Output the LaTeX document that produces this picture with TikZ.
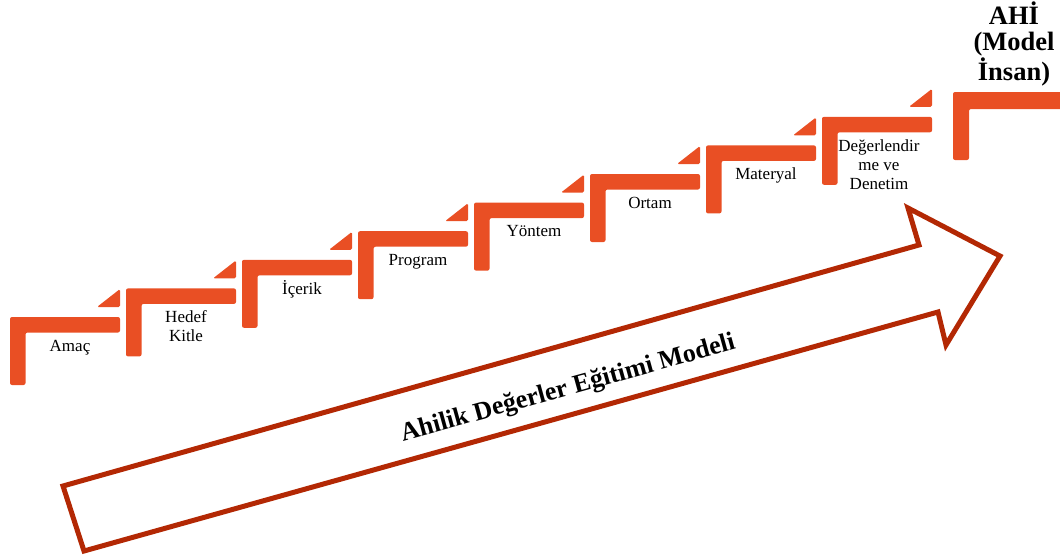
\documentclass[tikz,border=0pt]{standalone}
\usepackage{fontspec}
\setmainfont{Liberation Serif}
\usepackage{tikz}
\usepackage{xcolor}
\definecolor{steporange}{RGB}{233,79,36}
\definecolor{arrowred}{RGB}{179,40,4}

\begin{document}
\begin{tikzpicture}[x=1pt, y=-1pt, font=\fontsize{17}{19}\selectfont,
    lbl/.style={anchor=base, align=center, inner sep=0pt},
    bigarrow/.style={draw=arrowred, line width=5pt, line join=miter},
    stair/.pic={
      \fill[steporange, rounded corners=2pt] (0,68) -- (0,0) -- (110,0) -- (110,15.5) -- (15.5,15.5) -- (15.5,68) -- cycle;
      \fill[steporange, rounded corners=1.5pt] (87,-10) -- (110,-10) -- (110,-28) -- cycle;
    }]
    \useasboundingbox (0,0) rectangle (1060,557);
    \pic at (10,317)   {stair};
    \pic at (126,288.4) {stair};
    \pic at (242,259.8) {stair};
    \pic at (358,231.2) {stair};
    \pic at (474,202.6) {stair};
    \pic at (590,174)   {stair};
    \pic at (706,145.4) {stair};
    \pic at (822,116.8) {stair};
    \fill[steporange, rounded corners=2pt] (953,160) -- (953,92) -- (1062,92) -- (1062,109) -- (969,109) -- (969,160) -- cycle;
    % multi-line labels sit on the baseline of their last line
    \node[lbl] (amac)     at (70,351)    {Amaç};
    \node[lbl] (hedef)    at (186,341.5) {Hedef\\Kitle};
    \node[lbl] (icerik)   at (302,294)   {İçerik};
    \node[lbl] (program)  at (418,265)   {Program};
    \node[lbl] (yontem)   at (534,236.5) {Yöntem};
    \node[lbl] (ortam)    at (650,208)   {Ortam};
    \node[lbl] (materyal) at (766,179)   {Materyal};
    \node[lbl] (degerlendirme) at (879,189) {Değerlendir\\me ve\\Denetim};
    \node[lbl, font=\bfseries\fontsize{26.5}{26.5}\selectfont] (ahi) at (1014,80) {AHİ\\(Model\\İnsan)};
    \draw[bigarrow] (63,486) -- (919,245) -- (908,208) -- (1000,256) -- (946,345) -- (938,312) -- (84,551) -- cycle;
    \node[font=\bfseries\fontsize{26}{30}\selectfont, rotate=15.5] (title) at (568,389) {Ahilik Değerler Eğitimi Modeli};
  \end{tikzpicture}
\end{document}
